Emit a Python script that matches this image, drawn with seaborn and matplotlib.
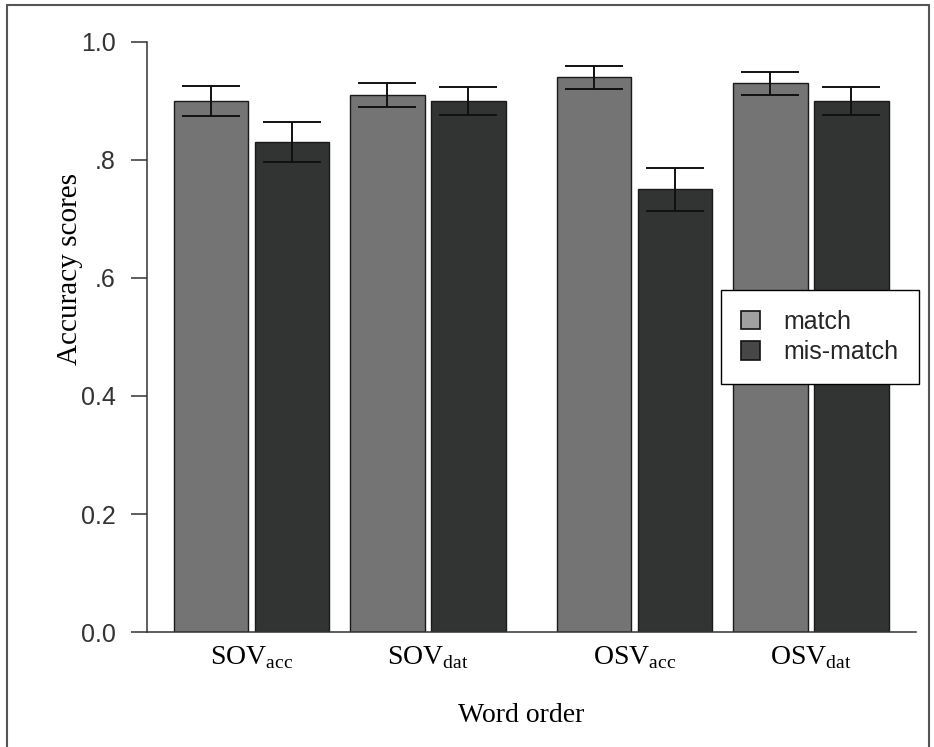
import pandas as pd
import matplotlib
matplotlib.use('Agg')
import matplotlib.pyplot as plt
from matplotlib.patches import Patch, Rectangle
import seaborn as sns

# values
word_order = ['SOV$_{\\mathrm{acc}}$', 'SOV$_{\\mathrm{dat}}$', 'OSV$_{\\mathrm{acc}}$', 'OSV$_{\\mathrm{dat}}$']
conditions = ['match', 'mis-match']
match_means = [0.90, 0.91, 0.94, 0.93]
mismatch_means = [0.83, 0.90, 0.75, 0.90]
match_se = [0.026, 0.021, 0.020, 0.019]
mismatch_se = [0.034, 0.023, 0.036, 0.023]
y_ticks = [0.0, 0.2, 0.4, 0.6, 0.8, 1.0]
y_tick_labels = ['0.0', '0.2', '0.4', '.6', '.8', '1.0']

# layout: wider gap between SOV and OSV pairs
x_pos = [0, 1, 2.17, 3.17]

df = pd.DataFrame({
    'pos': x_pos * 2,
    'score': match_means + mismatch_means,
    'condition': [conditions[0]] * 4 + [conditions[1]] * 4,
})

sns.set_theme(style='white')
plt.rcParams['font.family'] = ['Liberation Sans', 'DejaVu Sans']
plt.rcParams['mathtext.fontset'] = 'custom'
plt.rcParams['mathtext.rm'] = 'Liberation Serif'

fig = plt.figure(figsize=(9.34, 7.47), dpi=100)
ax = fig.add_axes([147 / 934, 1 - 632 / 747, 769 / 934, 590 / 747])

bar_colors = ['#747474', '#323433']
sns.barplot(data=df, x='pos', y='score', hue='condition', native_scale=True,
            palette=bar_colors, width=0.918, gap=0.086, errorbar=None,
            edgecolor='#1a1a1a', linewidth=1.0, saturation=1, ax=ax, legend=False)

# standard errors
for cont, se in zip(ax.containers, [match_se, mismatch_se]):
    bars = sorted(cont, key=lambda b: b.get_x())
    xs = [b.get_x() + b.get_width() / 2 for b in bars]
    ys = [b.get_height() for b in bars]
    ax.errorbar(xs, ys, yerr=se, fmt='none', ecolor='#111111', elinewidth=1.4,
                capsize=21, capthick=1.4, zorder=5)

ax.set_xlim(-0.592, 3.765)
ax.set_ylim(0, 1.0)
ax.set_yticks(y_ticks)
ax.set_yticklabels(y_tick_labels, fontsize=18, color='#333333')
ax.set_xticks(x_pos)
ax.set_xticklabels(word_order, fontsize=20, family='Liberation Serif', color='black')
ax.tick_params(axis='x', length=0, pad=9)
ax.tick_params(axis='y', length=11.5, width=1.1, color='#333333', pad=11, left=True)

for s in ['top', 'right']:
    ax.spines[s].set_visible(False)
for s in ['left', 'bottom']:
    ax.spines[s].set_color('#333333')
    ax.spines[s].set_linewidth(1.1)
ax.spines['left'].set_bounds(0, 1.0)

ax.set_xlabel('Word order', fontsize=20, family='Liberation Serif', color='black')
ax.set_ylabel('Accuracy scores', fontsize=21, family='Liberation Serif', color='black')
ax.xaxis.set_label_coords(0.486, -0.121)
ax.yaxis.set_label_coords(-0.083, 0.615)

handles = [Patch(facecolor='#a0a0a0', edgecolor='#111111', linewidth=1.2),
           Patch(facecolor='#474747', edgecolor='#111111', linewidth=1.2)]
leg = ax.legend(handles, conditions, loc='upper left',
                bbox_to_anchor=(721 / 934, 1 - 290 / 747), bbox_transform=fig.transFigure,
                frameon=True, fancybox=False, framealpha=1, edgecolor='black',
                fontsize=18, handlelength=0.75, handleheight=0.75, handletextpad=0.95,
                labelspacing=0.25, borderpad=0.8, borderaxespad=0)
leg.get_frame().set_linewidth(1.0)

# outer frame of the figure
fig.add_artist(Rectangle((7 / 934, -0.05), 922 / 934, 1 - 5 / 747 + 0.05,
                         transform=fig.transFigure, fill=False,
                         edgecolor='#555555', linewidth=1.5))

fig.savefig('out.png', dpi=100)
